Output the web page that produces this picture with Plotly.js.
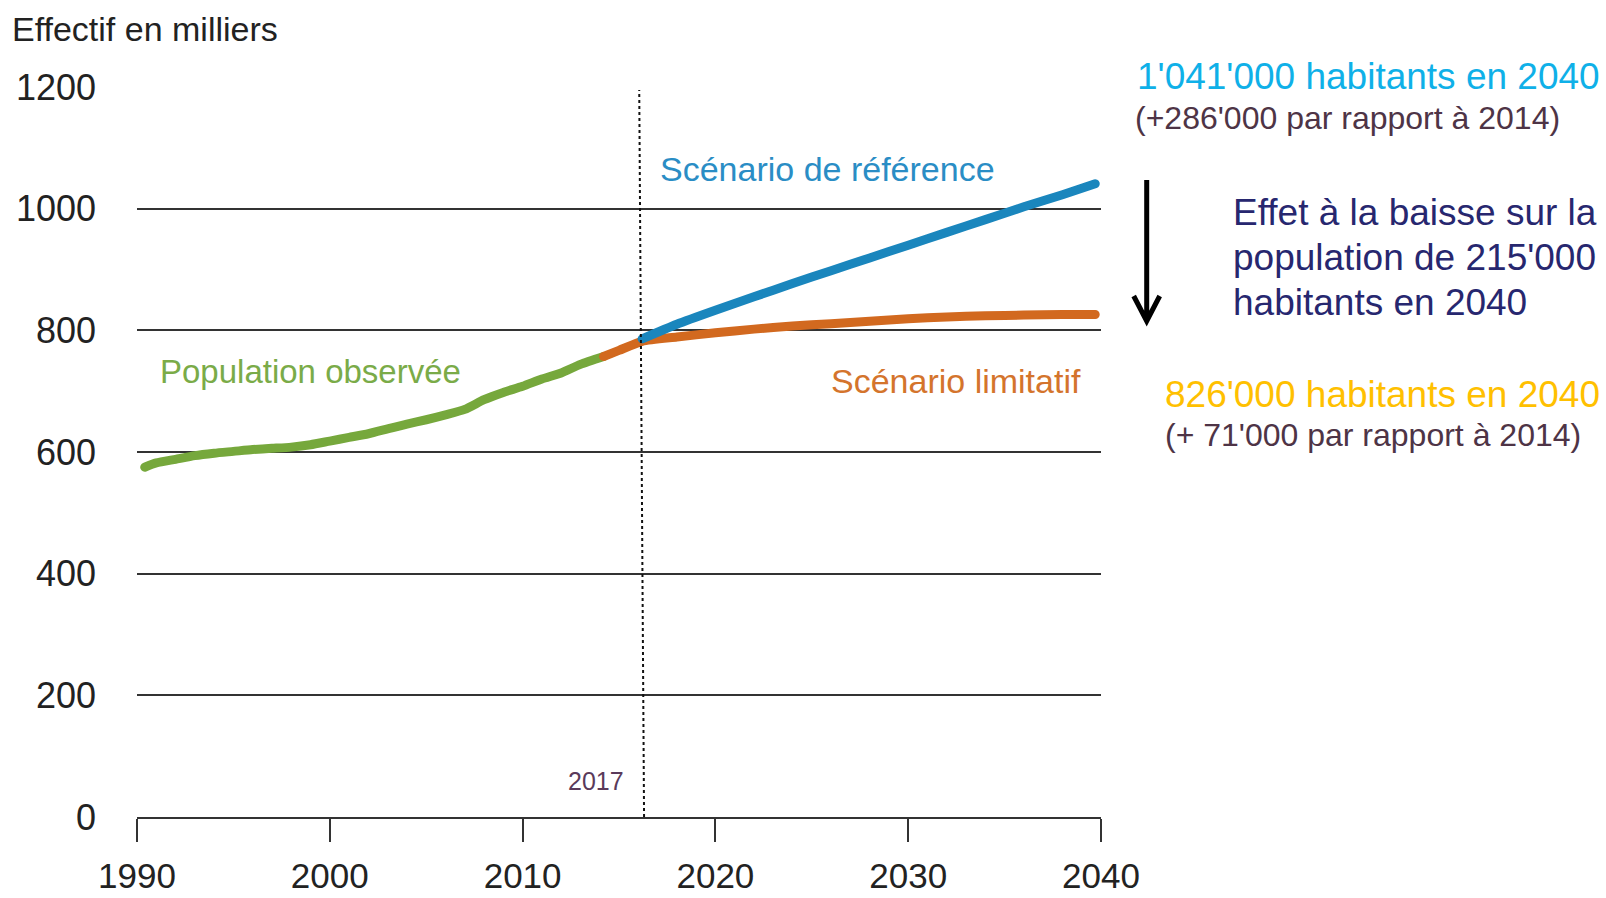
<!DOCTYPE html>
<html>
<head>
<meta charset="utf-8">
<script src="https://cdn.plot.ly/plotly-3.0.1.min.js"></script>
<style>html,body{margin:0;padding:0;background:#fff;}#chart{width:1606px;height:898px;}</style>
</head>
<body>
<div id="chart"></div>
<script>
// ---- Data ----
const observedYears = [1990.4, 1991, 1992, 1993, 1994, 1995, 1996, 1997, 1998, 1999, 2000, 2001, 2002, 2003, 2004, 2005, 2006, 2007, 2008, 2009, 2010, 2011, 2012, 2013, 2014.2];
const observedValues = [575, 582, 588, 594, 598, 601, 604, 606, 608, 612, 618, 624, 630, 638, 646, 653, 661, 670, 686, 698, 708, 720, 730, 744, 757];

const limitYears = [2014.2, 2015, 2016.2, 2018, 2020, 2022, 2024, 2026, 2028, 2030, 2032, 2034, 2036, 2038, 2039.7];
const limitValues = [757, 767, 782, 789, 796, 802, 807, 811, 815, 819, 822, 824, 825, 826, 826];

const refYears = [2016.2, 2018, 2020, 2022, 2024, 2026, 2028, 2030, 2032, 2034, 2036, 2038, 2039.7];
const refValues = [786, 810, 833, 855, 877, 898, 919, 940, 961, 982, 1003, 1023, 1041];

const xTicks = [1990, 2000, 2010, 2020, 2030, 2040];
const yTicks = [0, 200, 400, 600, 800, 1000, 1200];
const markerYear = 2017;

const FONT = "Liberation Sans, Arial, Helvetica, sans-serif";

const traces = [
  {x: observedYears, y: observedValues, mode: 'lines', name: 'Population observée',
   line: {color: '#76a83c', width: 9, shape: 'spline', smoothing: 0.6}},
  {x: limitYears, y: limitValues, mode: 'lines', name: 'Scénario limitatif',
   line: {color: '#d2691f', width: 9, shape: 'spline', smoothing: 0.6}},
  {x: refYears, y: refValues, mode: 'lines', name: 'Scénario de référence',
   line: {color: '#1a86bd', width: 9, shape: 'spline', smoothing: 0.6}}
];

// pixel -> paper helpers for the right-hand text block
const L = 137, R = 505, T = 87, B = 81, W = 1606, H = 898;
const pw = W - L - R, ph = H - T - B;
const px = X => (X - L) / pw;
const py = Y => (H - B - Y) / ph;

const annotations = [
  {x: 1999.0, y: 732, xref: 'x', yref: 'y', text: 'Population observée', showarrow: false,
   font: {family: FONT, size: 33, color: '#7aab48'}},
  {x: 2025.8, y: 1066, xref: 'x', yref: 'y', text: 'Scénario de référence', showarrow: false,
   font: {family: FONT, size: 34, color: '#2a8dc5'}},
  {x: 2032.5, y: 716, xref: 'x', yref: 'y', text: 'Scénario limitatif', showarrow: false,
   font: {family: FONT, size: 34, color: '#d4742c'}},
  {x: 2013.83, y: 60, xref: 'x', yref: 'y', text: String(markerYear), showarrow: false,
   font: {family: FONT, size: 25, color: '#5a3a5a'}},

  {x: px(1135), y: py(77), xref: 'paper', yref: 'paper', xanchor: 'left', yanchor: 'middle',
   text: "1'041'000 habitants en 2040", showarrow: false, font: {family: FONT, size: 37, color: '#0fb0e8'}},
  {x: px(1133), y: py(118), xref: 'paper', yref: 'paper', xanchor: 'left', yanchor: 'middle',
   text: "(+286'000 par rapport à 2014)", showarrow: false, font: {family: FONT, size: 32, color: '#4e3446'}},
  {x: px(1231), y: py(213), xref: 'paper', yref: 'paper', xanchor: 'left', yanchor: 'middle',
   text: "Effet à la baisse sur la", showarrow: false, font: {family: FONT, size: 37, color: '#27276f'}},
  {x: px(1231), y: py(257), xref: 'paper', yref: 'paper', xanchor: 'left', yanchor: 'middle',
   text: "population de 215'000", showarrow: false, font: {family: FONT, size: 37, color: '#27276f'}},
  {x: px(1231), y: py(302), xref: 'paper', yref: 'paper', xanchor: 'left', yanchor: 'middle',
   text: "habitants en 2040", showarrow: false, font: {family: FONT, size: 37, color: '#27276f'}},
  {x: px(1163), y: py(394), xref: 'paper', yref: 'paper', xanchor: 'left', yanchor: 'middle',
   text: "826'000 habitants en 2040", showarrow: false, font: {family: FONT, size: 37, color: '#ffc000'}},
  {x: px(1163), y: py(435), xref: 'paper', yref: 'paper', xanchor: 'left', yanchor: 'middle',
   text: "(+ 71'000 par rapport à 2014)", showarrow: false, font: {family: FONT, size: 32, color: '#4e3446'}}
];

const ax = 1146.7, ayTop = 180, ayTip = 321;
const shapes = [
  {type: 'line', xref: 'x', yref: 'y', x0: 2016.3, x1: 2016.05, y0: 0, y1: 1195,
   line: {color: '#111', width: 2, dash: 'dot'}},
  {type: 'path', xref: 'paper', yref: 'paper',
   path: `M ${px(ax)} ${py(ayTop)} L ${px(ax)} ${py(ayTip)} M ${px(ax - 13)} ${py(ayTip - 25)} L ${px(ax)} ${py(ayTip)} L ${px(ax + 13)} ${py(ayTip - 25)}`,
   line: {color: '#000', width: 5}}
];

const layout = {
  width: W, height: H,
  margin: {l: L, r: R, t: T, b: B, pad: 0},
  paper_bgcolor: '#fff', plot_bgcolor: '#fff',
  showlegend: false,
  title: {text: 'Effectif en milliers', x: 12 / W, xanchor: 'left', xref: 'container',
          y: 1 - 29 / H, yanchor: 'middle', yref: 'container',
          font: {family: FONT, size: 34, color: '#222'}},
  xaxis: {range: [1990, 2040], tickvals: xTicks, ticktext: xTicks.map(String),
          ticks: 'outside', ticklen: 23, tickwidth: 2, tickcolor: '#333',
          showline: true, linecolor: '#333', linewidth: 2, showgrid: false, zeroline: false,
          ticklabelstandoff: 4, tickfont: {family: FONT, size: 35, color: '#222'}},
  yaxis: {range: [0, 1200], tickvals: yTicks, ticktext: yTicks.map(String),
          ticks: '', showline: false, showgrid: true, gridcolor: '#333', gridwidth: 2, zeroline: false,
          ticklabelstandoff: 40, tickfont: {family: FONT, size: 36, color: '#222'}},
  annotations: annotations,
  shapes: shapes
};

Plotly.newPlot('chart', traces, layout, {displayModeBar: false, staticPlot: true}).then(function (gd) {
  gd.querySelectorAll('.scatterlayer path.js-line').forEach(function (p) {
    p.style.strokeLinecap = 'round';
    p.style.strokeLinejoin = 'round';
  });
});
</script>
</body>
</html>
